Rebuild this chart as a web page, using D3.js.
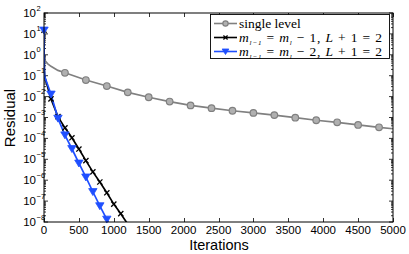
<!DOCTYPE html>
<html>
<head>
<meta charset="utf-8">
<script src="https://cdn.jsdelivr.net/npm/d3@7"></script>
<style>
  html, body { margin: 0; padding: 0; background: #fff; }
  svg { display: block; }
</style>
</head>
<body>
<svg id="chart" width="409" height="254"></svg>
<script>
// ---- data ----
const xTicks = [0, 500, 1000, 1500, 2000, 2500, 3000, 3500, 4000, 4500, 5000];
const yExps = [2, 1, 0, -1, -2, -3, -4, -5, -6, -7, -8];

const singleIter = [0, 5, 20, 50, 100, 200, 300, 600, 900, 1200, 1500, 1800, 2100, 2400, 2700, 3000, 3300, 3600, 3900, 4200, 4500, 4800, 5000];
const singleRes  = [0.8, 0.65, 0.5, 0.38, 0.28, 0.18, 0.138, 0.062, 0.032, 0.016, 0.0093, 0.0058, 0.0038, 0.0028, 0.0021, 0.00166, 0.0013, 0.00098, 0.00074, 0.00059, 0.00044, 0.00034, 0.00029];

const m1Iter = [0, 2, 5, 10, 100, 200, 300, 400, 500, 600, 700, 800, 900, 1000, 1100, 1200];
const m1Res  = [15, 1, 0.2, 0.09, 0.0078, 0.0011, 3.2e-4, 1.07e-4, 3.1e-5, 8.6e-6, 2.5e-6, 8.2e-7, 2.5e-7, 7.2e-8, 2.5e-8, 7.9e-9];

const m2Iter = [0, 2, 5, 10, 100, 200, 300, 400, 500, 600, 700, 800, 900, 1000];
const m2Res  = [15, 1, 0.2, 0.09, 0.013, 9.1e-4, 1.45e-4, 3.2e-5, 6.5e-6, 1.4e-6, 2.8e-7, 5.9e-8, 1.35e-8, 3e-9];

const legendLabels = ["single level", "m_{l-1} = m_l - 1, L + 1 = 2", "m_{l-1} = m_l - 2, L + 1 = 2"];

// ---- chart ----
const svg = d3.select("#chart");
const X0 = 44, X1 = 393, Y0 = 222, Y1 = 13;
const x = d3.scaleLinear().domain([0, 5000]).range([X0, X1]);
const y = d3.scaleLog().domain([1e-8, 1e2]).range([Y0, Y1]);

const tickFont = "Liberation Sans, Arial, Helvetica, sans-serif";

svg.append("defs").append("clipPath").attr("id", "clip")
  .append("rect").attr("x", X0).attr("y", Y1).attr("width", X1 - X0).attr("height", Y0 - Y1);

// ticks (inside, matlab style)
const tg = svg.append("g").attr("stroke", "#000").attr("stroke-width", 0.8);
xTicks.forEach(t => {
  const px = Math.round(x(t)) + 0.5;
  tg.append("line").attr("x1", px).attr("x2", px).attr("y1", Y0).attr("y2", Y0 - 4);
  tg.append("line").attr("x1", px).attr("x2", px).attr("y1", Y1).attr("y2", Y1 + 4);
});
yExps.forEach(e => {
  const py = y(Math.pow(10, e));
  tg.append("line").attr("x1", X0).attr("x2", X0 + 4).attr("y1", py).attr("y2", py);
  tg.append("line").attr("x1", X1).attr("x2", X1 - 4).attr("y1", py).attr("y2", py);
  if (e > -8) {
    for (let k = 2; k <= 9; k++) {
      const pm = y(k * Math.pow(10, e - 1));
      tg.append("line").attr("x1", X0).attr("x2", X0 + 2).attr("y1", pm).attr("y2", pm);
      tg.append("line").attr("x1", X1).attr("x2", X1 - 2).attr("y1", pm).attr("y2", pm);
    }
  }
});

// tick labels
const xl = svg.append("g").attr("font-family", tickFont).attr("font-size", 11.5).attr("fill", "#000");
xTicks.forEach(t => {
  xl.append("text").attr("x", x(t)).attr("y", 234).attr("text-anchor", "middle").text(t);
});
const yl = svg.append("g").attr("font-family", tickFont).attr("fill", "#000");
yExps.forEach(e => {
  const py = y(Math.pow(10, e));
  yl.append("text").attr("x", 36).attr("y", py + 4).attr("text-anchor", "end").attr("font-size", 11.5).text("10");
  yl.append("text").attr("x", 36.5).attr("y", py - 2.5).attr("font-size", 7.5).text(e < 0 ? "\u2212" + (-e) : String(e));
});

// axis labels
svg.append("text").attr("x", 219).attr("y", 249.5).attr("text-anchor", "middle")
  .attr("font-family", tickFont).attr("font-size", 14.5).text("Iterations");
svg.append("text").attr("transform", "translate(15,118) rotate(-90)").attr("text-anchor", "middle")
  .attr("font-family", tickFont).attr("font-size", 15).text("Residual");

// series
const series = [
  { it: singleIter, r: singleRes, color: "#808080", every: 300, marker: "circle" },
  { it: m1Iter, r: m1Res, color: "#000000", every: 100, marker: "x" },
  { it: m2Iter, r: m2Res, color: "#1f4fff", every: 100, marker: "tri" }
];
const line = d3.line().x(d => x(d[0])).y(d => y(d[1]));

function drawMarker(g, type, cx, cy, color, sc) {
  sc = sc || 1;
  if (type === "circle") {
    g.append("circle").attr("cx", cx).attr("cy", cy).attr("r", 3.3 * sc)
      .attr("fill", "#b0b0b0").attr("stroke", color).attr("stroke-width", 1.2);
  } else if (type === "x") {
    const s = 2.6 * sc;
    g.append("path").attr("d", `M${cx - s},${cy - s}L${cx + s},${cy + s}M${cx - s},${cy + s}L${cx + s},${cy - s}`)
      .attr("stroke", color).attr("stroke-width", 1.3).attr("fill", "none");
  } else {
    const s = 4.2 * sc;
    g.append("path").attr("d", `M${cx - s},${cy - s * 0.75}L${cx + s},${cy - s * 0.75}L${cx},${cy + s * 0.9}Z`)
      .attr("fill", color).attr("stroke", color).attr("stroke-width", 0.8);
  }
}

series.forEach(s => {
  const pts = s.it.map((v, i) => [v, s.r[i]]);
  svg.append("path").datum(pts).attr("d", line).attr("clip-path", "url(#clip)")
    .attr("fill", "none").attr("stroke", s.color).attr("stroke-width", 1.7);
});
series.forEach(s => {
  const g = svg.append("g");
  s.it.forEach((v, i) => {
    if (v % s.every === 0 && s.r[i] >= 1e-8 && (s.marker !== "circle" || v > 0)) {
      drawMarker(g, s.marker, x(v), y(s.r[i]), s.color);
    }
  });
});

// frame
svg.append("rect").attr("x", X0).attr("y", Y1).attr("width", X1 - X0).attr("height", Y0 - Y1)
  .attr("fill", "none").attr("stroke", "#000").attr("stroke-width", 1);

// legend
const lg = svg.append("g");
lg.append("rect").attr("x", 210.5).attr("y", 14.5).attr("width", 179).attr("height", 44)
  .attr("fill", "#fff").attr("stroke", "#000").attr("stroke-width", 0.9);
const serif = "Liberation Serif, Times New Roman, serif";
const rowsY = [23.5, 37.5, 51.5];
series.forEach((s, i) => {
  const ry = rowsY[i];
  lg.append("line").attr("x1", 214).attr("x2", 237).attr("y1", ry).attr("y2", ry)
    .attr("stroke", s.color).attr("stroke-width", 1.6);
  drawMarker(lg, s.marker, 225.5, ry, s.color, 0.8);
  const t = lg.append("text").attr("x", 239).attr("y", ry + 4.5).attr("font-family", serif)
    .attr("font-size", 13.5).attr("fill", "#000");
  if (i === 0) {
    t.text(legendLabels[0]);
  } else {
    const lab = legendLabels[i];
    const num = lab.includes("- 1,") ? "1" : "2";
    t.attr("textLength", 143).attr("lengthAdjust", "spacing");
    t.append("tspan").attr("font-style", "italic").text("m");
    t.append("tspan").attr("font-size", 7).attr("dy", 2.5).attr("font-style", "italic").text("l\u22121");
    t.append("tspan").attr("dy", -2.5).text(" = ");
    t.append("tspan").attr("font-style", "italic").text("m");
    t.append("tspan").attr("font-size", 7).attr("dy", 2.5).attr("font-style", "italic").text("l");
    t.append("tspan").attr("dy", -2.5).text(" \u2212 " + num + ", ");
    t.append("tspan").attr("font-style", "italic").text("L");
    t.append("tspan").text(" + 1 = 2");
  }
});
</script>
</body>
</html>
